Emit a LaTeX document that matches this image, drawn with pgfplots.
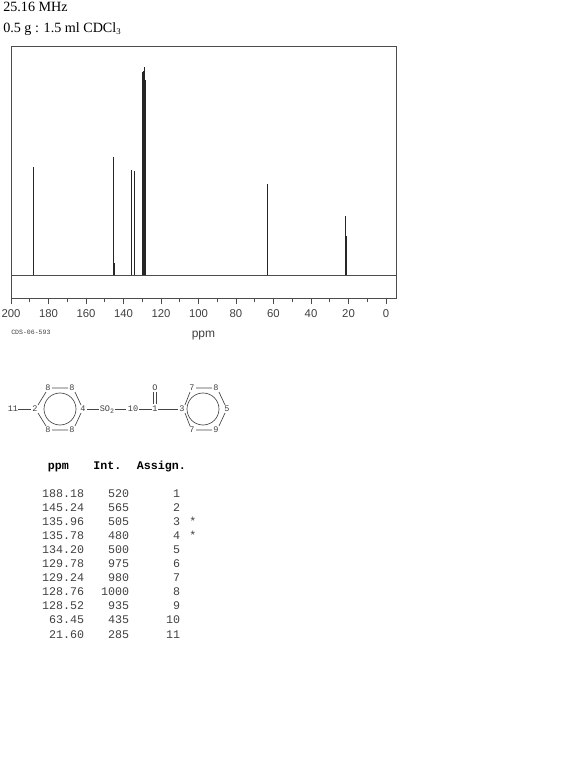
\documentclass[border=0pt]{standalone}
\usepackage{fontspec}
\usepackage{pgfplots}
\pgfplotsset{compat=1.18}
\setmainfont{Liberation Serif}
\newfontfamily\ax{Liberation Sans}
\newfontfamily\mono{Liberation Mono}
\definecolor{fr}{gray}{0.3}
\definecolor{tx}{gray}{0.25}
\begin{document}
\begin{tikzpicture}[x=0.75pt,y=-0.75pt]
\useasboundingbox (0,0) rectangle (570,760);
\begin{axis}[
  at={(8.25pt,-34.5pt)},anchor=north west,
  scale only axis,width=288.75pt,height=189pt,
  x dir=reverse,
  xmin=-5.33,xmax=200,ymin=-110,ymax=1100,
  axis line style={fr,line width=0.7pt},
  xtick={0,20,...,200},minor xtick={10,30,...,190},
  ytick=\empty,xtick pos=bottom,xtick align=outside,
  tick style={fr,line width=0.6pt},
  major tick length=4.5pt,minor tick length=3pt,
  /pgf/number format/assume math mode=true,
  xticklabel style={font=\ax\fontsize{8.5pt}{9pt}\selectfont,text=tx,yshift=-1pt},
  xlabel={\ax\fontsize{9pt}{10pt}\selectfont ppm},
  xlabel style={text=tx,yshift=-2.5pt},
  clip=true,
]
\addplot[fr,line width=0.6pt] coordinates {(200,0) (-5.33,0)};
\addplot[ycomb,black!85,line width=0.55pt,mark=none] table {
188.18 520
145.24 565
135.96 505
135.78 480
134.20 500
129.78 975
129.24 980
128.76 1000
128.52 935
63.45 435
21.60 285
};
% broadened bases of the peaks
\addplot[ycomb,black!85,line width=0.7pt,mark=none] table {
188.00 10
145.00 60
135.60 10
134.00 40
130.10 100
128.20 30
63.30 40
21.35 190
};
\end{axis}
\node[anchor=base west,inner sep=0] at (3,12) {\fontsize{10.6pt}{12pt}\selectfont 25.16 MHz};
\node[anchor=base west,inner sep=0] at (3,32.5) {\fontsize{10.6pt}{12pt}\selectfont 0.5 g : 1.5 ml CDCl\raisebox{-0.25ex}{\fontsize{6.5pt}{8pt}\selectfont 3}};
\node[anchor=base west,inner sep=0,text=tx] at (11,334) {\mono\fontsize{4.9pt}{5pt}\selectfont CDS-06-593};
% structure
\begin{scope}[gray!55!black,line width=0.5pt]
\draw (18,409)--(31,409);
\draw (38,405)--(46,392) (52,388)--(68,388) (75,392)--(81,405)
      (81,413)--(75,426) (68,430)--(52,430) (46,426)--(38,413);
\draw (60,409) circle[radius=16];
\draw (87,409)--(99,409) (115,409)--(126,409) (139,409)--(152,409) (158,409)--(178,409);
\draw (153.5,392)--(153.5,404) (156.5,392)--(156.5,404);
\draw (185,405)--(190,392) (196,388)--(212,388) (219,392)--(225,405)
      (225,413)--(219,426) (212,430)--(196,430) (190,426)--(185,413);
\draw (203,409) circle[radius=16];
\end{scope}
\foreach \x/\y/\t in {13/409/11,35/409/2,48/388/8,72/388/8,83/409/4,48/430/8,72/430/8,
   133/409/10,155/409/1,155/388/O,182/409/3,192/388/7,216/388/8,227/409/5,216/430/9,192/430/7}
  \node[inner sep=0,text=tx] at (\x,\y) {\mono\fontsize{6.4pt}{6pt}\selectfont \t};
\node[inner sep=0,text=tx] at (107,409.5) {\mono\fontsize{6.4pt}{6pt}\selectfont SO\raisebox{-0.3ex}{\fontsize{5pt}{5pt}\selectfont 2}};
% table
\node[anchor=base west,inner sep=0] at (47.5,469) {\mono\bfseries\fontsize{8.75pt}{9pt}\selectfont ppm};
\node[anchor=base west,inner sep=0] at (93,469) {\mono\bfseries\fontsize{8.75pt}{9pt}\selectfont Int.};
\node[anchor=base west,inner sep=0] at (136.5,469) {\mono\bfseries\fontsize{8.75pt}{9pt}\selectfont Assign.};
\foreach \y/\a/\b/\c/\s in {
 497/188.18/520/1/,511/145.24/565/2/,525.1/135.96/505/3/*,539.2/135.78/480/4/*,553.3/134.20/500/5/,
 567.4/129.78/975/6/,581.5/129.24/980/7/,595.6/128.76/1000/8/,609.7/128.52/935/9/,623.8/63.45/435/10/,638/21.60/285/11/}{
 \node[anchor=base east,inner sep=0,text=tx] at (84.5,\y) {\mono\fontsize{8.75pt}{9pt}\selectfont \a};
 \node[anchor=base east,inner sep=0,text=tx] at (129.5,\y) {\mono\fontsize{8.75pt}{9pt}\selectfont \b};
 \node[anchor=base east,inner sep=0,text=tx] at (180.5,\y) {\mono\fontsize{8.75pt}{9pt}\selectfont \c};
 \node[anchor=base west,inner sep=0,text=tx] at (189,\y) {\mono\fontsize{8.75pt}{9pt}\selectfont \s};
}
\end{tikzpicture}
\end{document}
